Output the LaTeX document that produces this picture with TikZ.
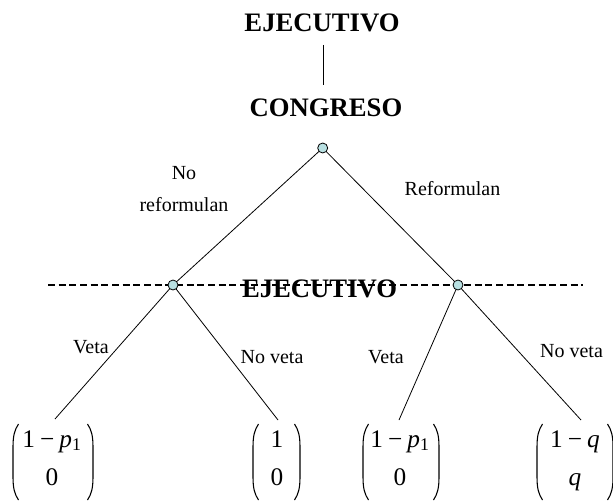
\documentclass[tikz,border=0pt]{standalone}
\usepackage{fontspec}
\setmainfont{Liberation Serif}
\definecolor{nodefill}{RGB}{184,224,226}
\newcommand{\mminus}{\hspace{0.2em}−\hspace{0.2em}}
\newcommand{\vecrows}[2]{\begin{tabular}[t]{@{}c@{}}#1\\#2\end{tabular}}
\tikzset{
  title/.style={font=\fontsize{20}{24}\selectfont\bfseries, anchor=base, inner sep=0pt},
  lab/.style={font=\fontsize{15}{24}\selectfont, anchor=base, inner sep=0pt},
  dec/.style={circle, draw=black, line width=0.6pt, fill=nodefill, minimum size=7.5pt, inner sep=0pt},
  edge/.style={line width=0.6pt},
  vec/.style={inner sep=0pt, anchor=base, font=\fontsize{19}{29}\selectfont},
  paren/.style={line width=0.8pt},
}
\newcommand{\lpar}[1]{\draw[paren] (#1+5.5,424) .. controls (#1+1.5,430) and (#1,436) .. (#1,447) -- (#1,477) .. controls (#1,488) and (#1+1.5,494) .. (#1+5.5,500);}
\newcommand{\rpar}[1]{\draw[paren] (#1-5.5,424) .. controls (#1-1.5,430) and (#1,436) .. (#1,447) -- (#1,477) .. controls (#1,488) and (#1-1.5,494) .. (#1-5.5,500);}
\begin{document}
\begin{tikzpicture}[x=0.75pt,y=-0.75pt]
\useasboundingbox (0,0) rectangle (613,502);
% titles
\node[title] (ej) at (322,32) {EJECUTIVO};
\node[title] (co) at (326,116.5) {CONGRESO};
\coordinate (lt) at (323,45);
\coordinate (lb) at (323,85);
\draw[edge] (lt) -- (lb);
% middle title and dashed information line
\node[title] (ej2) at (319.6,297) {EJECUTIVO};
\coordinate (dl) at (48,285);
\coordinate (dr) at (583,285);
% decision nodes
\coordinate (r) at (322.7,148);
\coordinate (a) at (173,285);
\coordinate (b) at (458,285);
% leaf ends
\coordinate (e1) at (55,419);
\coordinate (e2) at (278,420);
\coordinate (e3) at (399,420);
\coordinate (e4) at (581,420);
\draw[edge] (r) -- (a);
\draw[edge] (r) -- (b);
\draw[edge] (a) -- (e1);
\draw[edge] (a) -- (e2);
\draw[edge] (b) -- (e3);
\draw[edge] (b) -- (e4);
\draw[line width=1.1pt, dash pattern=on 5.2pt off 2.8pt] (dl) -- (dr);
\node[dec] (rn) at (r) {};
\node[dec] (an) at (a) {};
\node[dec] (bn) at (b) {};
% labels
\node[lab] (l1) at (184,180) {No};
\node[lab] (l2) at (184,212) {reformulan};
\node[lab] (l3) at (452.5,196) {Reformulan};
\node[lab] (l4) at (91,353.5) {Veta};
\node[lab] (l5) at (272,363) {No veta};
\node[lab] (l6) at (386,363) {Veta};
\node[lab] (l7) at (571.5,357) {No veta};
% payoffs
\node[vec] (v1) at (52,447) {\vecrows{1\mminus\textit{p}\textsubscript{1}}{0}};
\node[vec] (v2) at (277,447) {\vecrows{1}{0}};
\node[vec] (v3) at (400,447) {\vecrows{1\mminus\textit{p}\textsubscript{1}}{0}};
\node[vec] (v4) at (575,447) {\vecrows{1\mminus\textit{q}}{\textit{q}}};
\lpar{13} \rpar{93}
\lpar{253} \rpar{300}
\lpar{363} \rpar{439}
\lpar{537} \rpar{613}
\end{tikzpicture}
\end{document}
